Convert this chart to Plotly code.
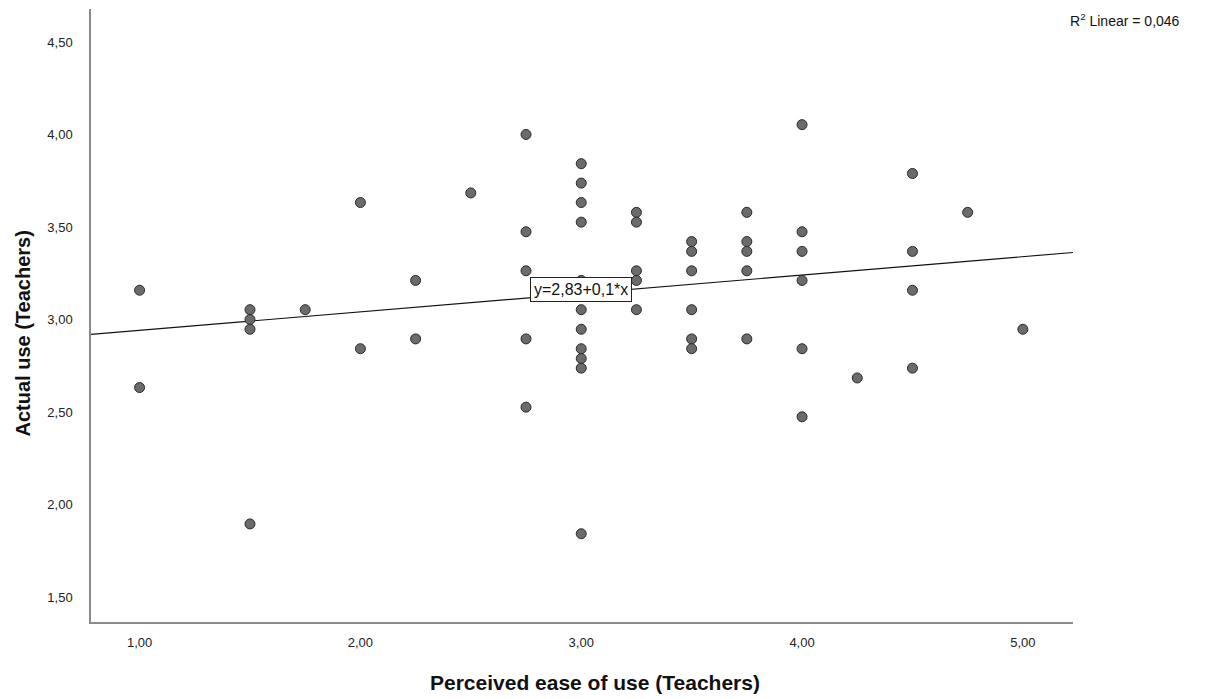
import plotly.graph_objects as go

# Perceived ease of use (Teachers)
ease = [
    1.00, 1.00,
    1.50, 1.50, 1.50, 1.50,
    1.75,
    2.00, 2.00,
    2.25, 2.25,
    2.50,
    2.75, 2.75, 2.75, 2.75, 2.75,
    3.00, 3.00, 3.00, 3.00, 3.00, 3.00, 3.00, 3.00, 3.00, 3.00, 3.00,
    3.25, 3.25, 3.25, 3.25, 3.25,
    3.50, 3.50, 3.50, 3.50, 3.50, 3.50,
    3.75, 3.75, 3.75, 3.75, 3.75,
    4.00, 4.00, 4.00, 4.00, 4.00, 4.00,
    4.25,
    4.50, 4.50, 4.50, 4.50,
    4.75,
    5.00,
]
# Actual use (Teachers)
actual = [
    3.158, 2.632,
    3.053, 3.000, 2.947, 1.895,
    3.053,
    3.632, 2.842,
    3.211, 2.895,
    3.684,
    4.000, 3.474, 3.263, 2.895, 2.526,
    3.842, 3.737, 3.632, 3.526, 3.211, 3.053, 2.947, 2.842, 2.789, 2.737, 1.842,
    3.579, 3.526, 3.263, 3.211, 3.053,
    3.421, 3.368, 3.263, 3.053, 2.895, 2.842,
    3.579, 3.421, 3.368, 3.263, 2.895,
    4.053, 3.474, 3.368, 3.211, 2.842, 2.474,
    2.684,
    3.789, 3.368, 3.158, 2.737,
    3.579,
    2.947,
]

x_ticks = [1.0, 2.0, 3.0, 4.0, 5.0]
x_tick_text = ["1,00", "2,00", "3,00", "4,00", "5,00"]
y_ticks = [1.5, 2.0, 2.5, 3.0, 3.5, 4.0, 4.5]
y_tick_text = ["1,50", "2,00", "2,50", "3,00", "3,50", "4,00", "4,50"]

x_range = [0.78, 5.227]
y_range = [1.365, 4.678]

fit_intercept = 2.842
fit_slope = 0.0995
fit_label = "y=2,83+0,1*x"
r2_label = "R<sup>2</sup> Linear = 0,046"

FONT = "Liberation Sans, Arial, sans-serif"

fig = go.Figure()

line_x = x_range
line_y = [fit_intercept + fit_slope * v for v in line_x]
fig.add_trace(go.Scatter(
    x=line_x, y=line_y, mode="lines",
    line=dict(color="#111111", width=1.2),
    hoverinfo="skip", showlegend=False,
))

fig.add_trace(go.Scatter(
    x=ease, y=actual, mode="markers",
    marker=dict(size=10, color="#6b6b6b", line=dict(color="#2a2a2a", width=1)),
    showlegend=False,
))

fig.add_annotation(
    x=3.0, y=3.16, xref="x", yref="y",
    text=fit_label, showarrow=False,
    font=dict(family=FONT, size=16, color="#111111"),
    bgcolor="white", bordercolor="#222222", borderwidth=1, borderpad=3,
    xanchor="center", yanchor="middle",
)

fig.add_annotation(
    x=1, y=1, xref="paper", yref="paper",
    xshift=52, yshift=-11,
    text=r2_label, showarrow=False,
    font=dict(family=FONT, size=14, color="#111111"),
    xanchor="center", yanchor="middle",
)

# Axis titles
fig.add_annotation(
    x=0.5, y=0, xref="paper", yref="paper", yshift=-60, xshift=13,
    text="<b>Perceived ease of use (Teachers)</b>", showarrow=False,
    font=dict(family=FONT, size=21, color="#111111"),
    xanchor="center", yanchor="middle",
)
fig.add_annotation(
    x=0, y=0.5, xref="paper", yref="paper", xshift=-69, yshift=-18,
    text="<b>Actual use (Teachers)</b>", showarrow=False, textangle=-90,
    font=dict(family=FONT, size=20, color="#111111"),
    xanchor="center", yanchor="middle",
)

fig.update_layout(
    width=1210, height=699,
    margin=dict(l=83, r=145, t=1, b=85),
    paper_bgcolor="white", plot_bgcolor="white",
    font=dict(family=FONT, size=13, color="#222222"),
    xaxis=dict(
        range=x_range, tickvals=x_ticks, ticktext=x_tick_text,
        showgrid=False, zeroline=False, ticks="",
        showline=True, linecolor="#8a8a8a", linewidth=1.5,
        ticklabelstandoff=8,
        tickfont=dict(family=FONT, size=13, color="#222222"),
    ),
    yaxis=dict(
        range=y_range, tickvals=y_ticks, ticktext=y_tick_text,
        showgrid=False, zeroline=False, ticks="",
        showline=True, linecolor="#8a8a8a", linewidth=1.5,
        ticklabelstandoff=14,
        tickfont=dict(family=FONT, size=13, color="#222222"),
    ),
)

fig.write_html("out.html")
